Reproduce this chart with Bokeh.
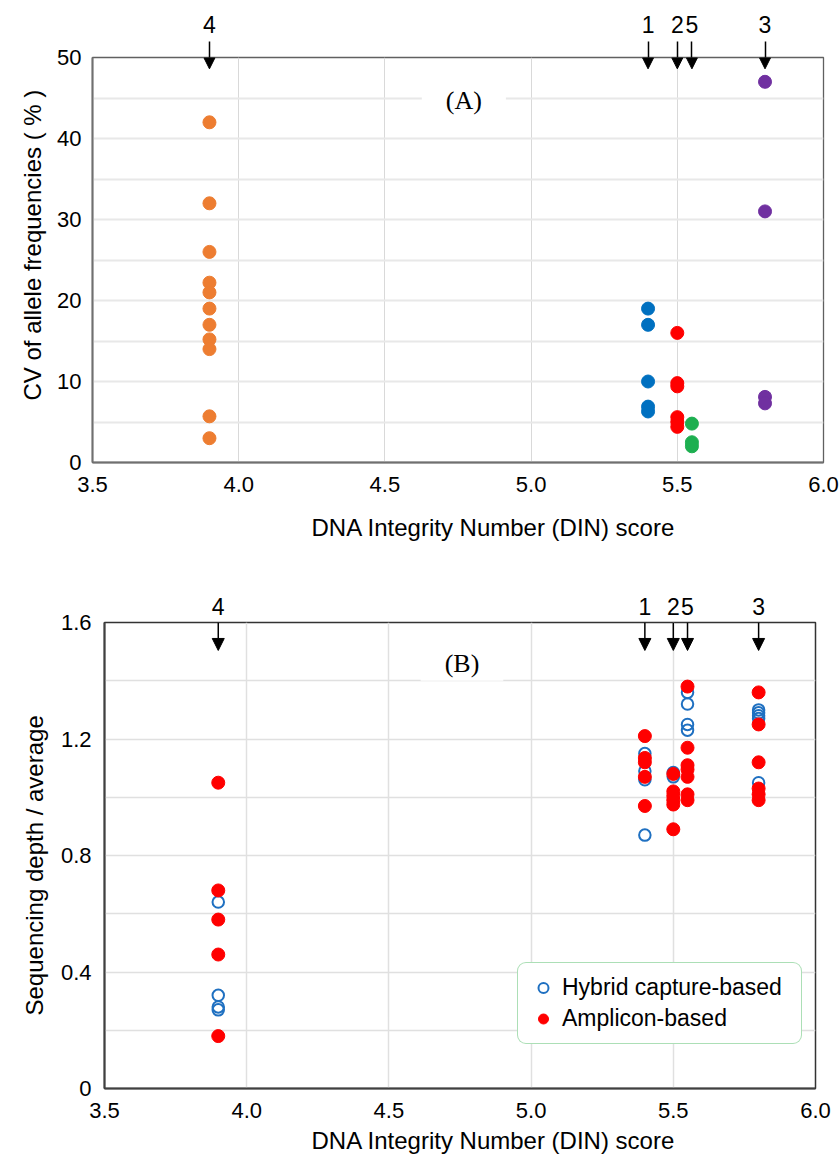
from bokeh.plotting import figure
from bokeh.models import (Label, Arrow, NormalHead, Range1d, PrintfTickFormatter,
                          LinearAxis, FixedTicker, Title)
from bokeh.embed import file_html
from bokeh.resources import INLINE

# ---------------- data ----------------
sample_ids = ["1", "2", "3", "4", "5"]
sample_din = [5.4, 5.5, 5.8, 3.9, 5.55]
sample_colors = ["#0070C0", "#FF0000", "#7030A0", "#ED7D31", "#1DAF50"]

# Panel A: CV of allele frequencies (%)
cv_s1 = [19.0, 17.0, 10.0, 6.9, 6.3]
cv_s2 = [16.0, 9.8, 9.4, 5.6, 5.0, 4.4]
cv_s3 = [47.0, 31.0, 8.1, 7.3]
cv_s4 = [42.0, 32.0, 26.0, 22.2, 21.0, 19.0, 17.0, 15.2, 14.0, 5.7, 3.0]
cv_s5 = [4.8, 2.5, 2.0]
cv_by_sample = [cv_s1, cv_s2, cv_s3, cv_s4, cv_s5]

# Panel B: sequencing depth / average
hyb_s1 = [1.15, 1.09, 1.06, 0.87]
hyb_s2 = [1.085, 1.07]
hyb_s3 = [1.30, 1.29, 1.28, 1.27, 1.05]
hyb_s4 = [0.64, 0.32, 0.28, 0.27]
hyb_s5 = [1.36, 1.32, 1.25, 1.23]
hyb_by_sample = [hyb_s1, hyb_s2, hyb_s3, hyb_s4, hyb_s5]

amp_s1 = [1.21, 1.135, 1.12, 1.07, 0.97]
amp_s2 = [1.08, 1.02, 1.005, 0.99, 0.975, 0.89]
amp_s3 = [1.36, 1.25, 1.12, 1.03, 1.01, 0.99]
amp_s4 = [1.05, 0.68, 0.58, 0.46, 0.18]
amp_s5 = [1.38, 1.17, 1.11, 1.095, 1.07, 1.01, 0.99]
amp_by_sample = [amp_s1, amp_s2, amp_s3, amp_s4, amp_s5]

x_ticks = [3.5, 4.0, 4.5, 5.0, 5.5, 6.0]
a_y_ticks = [0, 10, 20, 30, 40, 50]
a_y_grid = [5, 10, 15, 20, 25, 30, 35, 40, 45]
b_y_ticks = [0, 0.4, 0.8, 1.2, 1.6]
b_y_grid = [0.2, 0.4, 0.6, 0.8, 1.0, 1.2, 1.4]

x_title = "DNA Integrity Number (DIN) score"
a_y_title = "CV of allele frequencies ( % )"
b_y_title = "Sequencing depth / average"

SANS = "Liberation Sans"
SERIF = "Liberation Serif"


def flatten(groups):
    xs, ys = [], []
    for d, vals in zip(sample_din, groups):
        xs += [d] * len(vals)
        ys += list(vals)
    return xs, ys


def style_axes(p, axis_col, axis_w, outline_col, outline_w):
    p.background_fill_color = "white"
    p.border_fill_color = "white"
    p.outline_line_color = outline_col
    p.outline_line_width = outline_w
    for ax in (p.xaxis, p.yaxis):
        ax.axis_line_color = axis_col
        ax.axis_line_width = axis_w
        ax.major_tick_in = 0
        ax.major_tick_out = 0
        ax.minor_tick_line_color = None
        ax.major_label_text_font = SANS
        ax.major_label_text_font_size = "22px"
        ax.major_label_text_color = "black"


def panel_label(p, x, y, text):
    lab = Label(x=x, y=y, text=text, text_font=SERIF, text_font_size="26px",
                text_align="center", text_baseline="middle", text_color="black",
                background_fill_color="white")
    try:
        lab.padding = dict(x=24, y=3)
    except Exception:
        pass
    p.add_layout(lab)


def sample_markers(p, tick_out, standoff, y_start, y_end, head):
    # numbers above the frame, with the arrow shafts drawn as tick marks
    top = LinearAxis(ticker=FixedTicker(ticks=sample_din, minor_ticks=[]),
                     major_label_overrides=dict(zip(sample_din, sample_ids)),
                     axis_line_color=None, major_tick_in=0, major_tick_out=tick_out,
                     major_tick_line_color="black", major_tick_line_width=1.5,
                     minor_tick_line_color=None, major_label_standoff=standoff,
                     major_label_text_font=SANS, major_label_text_font_size="23px",
                     major_label_text_color="black")
    p.add_layout(top, "above")
    for d in sample_din:
        p.add_layout(Arrow(end=NormalHead(size=head, fill_color="black", line_color="black"),
                           x_start=d, y_start=y_start, x_end=d, y_end=y_end,
                           line_color="black", line_width=1.5))


def axis_title(p, text, side, offset, standoff):
    p.add_layout(Title(text=text, align="left", offset=offset, standoff=standoff,
                       text_font=SANS, text_font_size="24px", text_font_style="normal",
                       text_color="black"), side)


# ---------------- Panel A ----------------
p1 = figure(frame_width=731, frame_height=405, x_range=Range1d(3.5, 6.0), y_range=Range1d(0, 50),
            output_backend="svg", toolbar_location=None,
            min_border_left=92, min_border_right=16, min_border_top=57, min_border_bottom=101)
style_axes(p1, "#707070", 2, "#606060", 1.3)
p1.xaxis.ticker = x_ticks
p1.xaxis.formatter = PrintfTickFormatter(format="%.1f")
p1.yaxis.ticker = a_y_ticks
p1.xgrid.ticker = x_ticks
p1.ygrid.ticker = a_y_grid
p1.xgrid.grid_line_color = "#d9d9d9"
p1.xgrid.grid_line_width = 1
p1.ygrid.grid_line_color = "#e8e8e8"
p1.ygrid.grid_line_width = 2
p1.xaxis.major_label_standoff = 14
p1.yaxis.major_label_standoff = 11
axis_title(p1, x_title, "below", 219, 35)
axis_title(p1, a_y_title, "left", 62, 18)

for d, vals, c in zip(sample_din, cv_by_sample, sample_colors):
    p1.scatter([d] * len(vals), vals, size=13, fill_color=c, line_color=c)

panel_label(p1, 4.77, 44.7, "(A)")
sample_markers(p1, 16, 9, 50, 48.6, 11)

# ---------------- Panel B ----------------
p2 = figure(frame_width=711, frame_height=466, x_range=Range1d(3.5, 6.0), y_range=Range1d(0, 1.6),
            output_backend="svg", toolbar_location=None,
            min_border_left=104, min_border_right=24, min_border_top=59, min_border_bottom=70)
style_axes(p2, "#404040", 2, "#333333", 1.5)
p2.xaxis.ticker = x_ticks
p2.xaxis.formatter = PrintfTickFormatter(format="%.1f")
p2.yaxis.ticker = b_y_ticks
p2.yaxis.formatter = PrintfTickFormatter(format="%.1f")
p2.yaxis.major_label_overrides = {0: "0"}
p2.xgrid.ticker = x_ticks
p2.ygrid.ticker = b_y_grid
p2.xgrid.grid_line_color = "#e0e0e0"
p2.xgrid.grid_line_width = 1.5
p2.ygrid.grid_line_color = "#e0e0e0"
p2.ygrid.grid_line_width = 1.5
p2.xaxis.major_label_standoff = 14
p2.yaxis.major_label_standoff = 13
axis_title(p2, x_title, "below", 207, 8)
axis_title(p2, b_y_title, "left", 73, 19)

hx, hy = flatten(hyb_by_sample)
ax_, ay_ = flatten(amp_by_sample)
p2.scatter(hx, hy, size=11.5, fill_color=None, line_color="#1F70C1", line_width=2,
           legend_label="Hybrid capture-based")
p2.scatter(ax_, ay_, size=13, fill_color="#FF0000", line_color="#FF0000",
           legend_label="Amplicon-based")

panel_label(p2, 4.757, 1.46, "(B)")
sample_markers(p2, 0, 8, 1.6, 1.504, 12)

lg = p2.legend[0]
lg.location = (413, 44)
lg.label_text_font = SANS
lg.label_text_font_size = "23px"
lg.label_text_color = "black"
lg.glyph_width = 28
lg.glyph_height = 25
lg.label_standoff = 5
lg.label_width = 228
lg.padding = 11
lg.spacing = 4
lg.margin = 0
lg.border_line_color = "#5ABF6E"
lg.border_line_width = 1.5
lg.background_fill_color = "white"
lg.background_fill_alpha = 1
try:
    lg.border_radius = 9
except Exception:
    pass

# two independent roots, stacked, so that each frame keeps its own position
open("out.html", "w").write(file_html([p1, p2], INLINE))
